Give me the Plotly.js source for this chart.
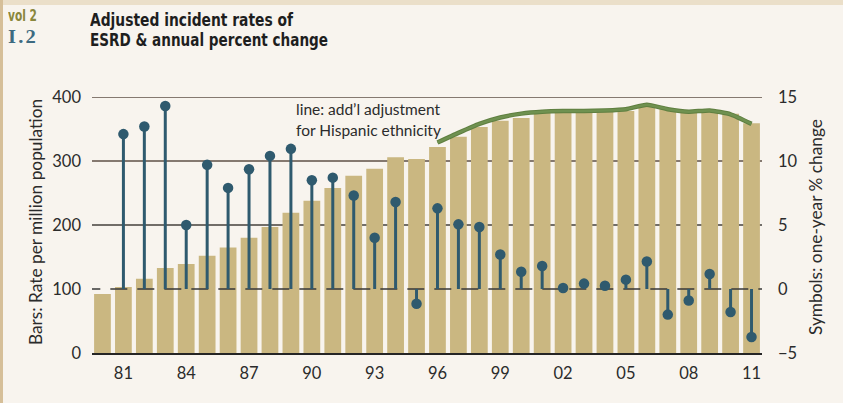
<!DOCTYPE html>
<html>
<head>
<meta charset="utf-8">
<script src="https://cdn.plot.ly/plotly-3.0.1.min.js"></script>
<style>
  html, body { margin: 0; padding: 0; background: #f8f4ee; }
  #wrap { position: relative; width: 843px; height: 403px; overflow: hidden; background: #f8f4ee; }
  #edgeL { position: absolute; left: 0; top: 0; width: 3px; height: 403px; background: #d6bf99; }
  #edgeT { position: absolute; left: 0; top: 0; width: 843px; height: 5px; background: #ebdfc9; }
  #chart { position: absolute; left: 0; top: 0; width: 843px; height: 403px; }
  .ttl { position: absolute; white-space: nowrap; transform-origin: 0 50%; line-height: 1; }
  #t1, #t2 { font-family: "DejaVu Sans Condensed", "DejaVu Sans", sans-serif; font-weight: bold;
             font-size: 18.5px; color: #1e1e1e; left: 90px; }
  #t1 { top: 11px; }
  #t2 { top: 31px; }
  #vol { font-family: "DejaVu Sans Condensed", "DejaVu Sans", sans-serif; font-weight: bold;
         font-size: 15.5px; color: #8a873c; left: 8px; top: 9px; }
  #sec { font-family: "Liberation Serif", "DejaVu Serif", serif; font-weight: bold;
         font-size: 19px; color: #3d6a80; left: 8px; top: 27px; letter-spacing: 2px; }
</style>
</head>
<body>
<div id="wrap">
  <div id="edgeT"></div>
  <div id="edgeL"></div>
  <div id="chart"></div>
  <div class="ttl" id="vol" data-w="29">vol 2</div>
  <div class="ttl" id="sec" data-w="30">I.2</div>
  <div class="ttl" id="t1" data-w="203">Adjusted incident rates of</div>
  <div class="ttl" id="t2" data-w="238">ESRD &amp; annual percent change</div>
</div>
<script>
// ---- data ----
var years = [1980,1981,1982,1983,1984,1985,1986,1987,1988,1989,1990,1991,1992,1993,1994,1995,
             1996,1997,1998,1999,2000,2001,2002,2003,2004,2005,2006,2007,2008,2009,2010,2011];
var rates = [92,103,116,133,139,152,165,180,197,219,238,258,277,288,306,303,
             322,338,353,363,367,375,376,376,377,378,385,381,376,378,374,359];

var pctYears = [1981,1982,1983,1984,1985,1986,1987,1988,1989,1990,1991,1992,1993,1994,1995,
                1996,1997,1998,1999,2000,2001,2002,2003,2004,2005,2006,2007,2008,2009,2010,2011];
var pctChange = [12.1,12.7,14.3,5.0,9.7,7.9,9.35,10.4,10.95,8.5,8.7,7.3,4.0,6.8,-1.15,
                 6.3,5.05,4.85,2.7,1.35,1.8,0.08,0.42,0.26,0.73,2.15,-2.0,-0.9,1.17,-1.8,-3.75];

var hispYears = [1996,1997,1998,1999,2000,2001,2002,2003,2004,2005,2006,2007,2008,2009,2010,2011];
var hispRates = [329,344,358,368,374,377,378,378,379,381,388,381,377,379,373,358];

var tickYears = [1981,1984,1987,1990,1993,1996,1999,2002,2005,2008,2011];
var tickLabels = ['81','84','87','90','93','96','99','02','05','08','11'];

// fit the condensed title lines to their measured widths
['vol','sec','t1','t2'].forEach(function (id) {
  var el = document.getElementById(id);
  var w = el.getBoundingClientRect().width;
  var target = parseFloat(el.getAttribute('data-w'));
  if (w > 0) el.style.transform = 'scaleX(' + (target / w) + ')';
});

// ---- build stems ----
var stemX = [], stemY = [];
for (var i = 0; i < pctYears.length; i++) {
  stemX.push(pctYears[i], pctYears[i], null);
  stemY.push(0, pctChange[i], null);
}

var FONT = 'Lato, "Open Sans", sans-serif';
var stemColor = '#2f5a6e';

var traces = [
  { type: 'bar', x: years, y: rates, yaxis: 'y', width: 0.8,
    marker: { color: '#cab781', line: { width: 0 } }, hoverinfo: 'skip' },
  { type: 'scatter', mode: 'lines', x: hispYears, y: hispRates, yaxis: 'y',
    line: { color: '#5f7f40', width: 4.5, shape: 'spline', smoothing: 0.5 }, hoverinfo: 'skip' },
  { type: 'scatter', mode: 'lines', x: hispYears, y: hispRates, yaxis: 'y',
    line: { color: '#6f9150', width: 2.5, shape: 'spline', smoothing: 0.5 }, hoverinfo: 'skip' },
  { type: 'scatter', mode: 'lines', x: [1979.085, 2011.5], y: [0, 0], yaxis: 'y2',
    line: { color: '#383838', width: 1.6, dash: '17px,10px' }, hoverinfo: 'skip' },
  { type: 'scatter', mode: 'lines', x: stemX, y: stemY, yaxis: 'y2', connectgaps: false,
    line: { color: stemColor, width: 3 }, hoverinfo: 'skip', cliponaxis: false },
  { type: 'scatter', mode: 'markers', x: pctYears, y: pctChange, yaxis: 'y2',
    marker: { color: stemColor, size: 10.5, line: { width: 0 } }, hoverinfo: 'skip', cliponaxis: false }
];

function px2x(p) { return (p - 92) / 670; }
function py2y(p) { return (353 - p) / 256; }

var layout = {
  width: 843, height: 403,
  margin: { l: 92, r: 81, t: 97, b: 50, pad: 0 },
  paper_bgcolor: 'rgba(0,0,0,0)',
  plot_bgcolor: 'rgba(0,0,0,0)',
  showlegend: false,
  bargap: 0.2,
  font: { family: FONT, size: 16, color: '#2b2b2b' },
  xaxis: {
    range: [1979.5, 2011.5], tickvals: tickYears, ticktext: tickLabels,
    showgrid: false, zeroline: false, showline: true, linecolor: '#252525', linewidth: 2,
    ticks: '', ticklabelstandoff: 4, tickfont: { family: FONT, size: 16.5, color: '#2b2b2b' }
  },
  yaxis: {
    range: [0, 400], tickvals: [0, 100, 200, 300, 400],
    showgrid: false, zeroline: false, showline: false, ticks: '',
    ticklabelstandoff: 10, tickfont: { family: FONT, size: 16.5, color: '#2b2b2b' }
  },
  yaxis2: {
    overlaying: 'y', side: 'right', range: [-5, 15], tickvals: [-5, 0, 5, 10, 15],
    showgrid: false, zeroline: false, showline: false, ticks: '',
    ticklabelstandoff: 15, tickfont: { family: FONT, size: 16.5, color: '#2b2b2b' }
  },
  shapes: [
    { type: 'line', layer: 'below', xref: 'paper', x0: 0, x1: 1, yref: 'y', y0: 400, y1: 400,
      line: { color: '#857970', width: 2 } },
    { type: 'line', layer: 'below', xref: 'paper', x0: 0, x1: 1, yref: 'y', y0: 300, y1: 300,
      line: { color: '#857970', width: 2 } },
    { type: 'line', layer: 'below', xref: 'paper', x0: 0, x1: 1, yref: 'y', y0: 200, y1: 200,
      line: { color: '#45403b', width: 1.5 } }
  ],
  annotations: [
    { xref: 'paper', yref: 'paper', x: px2x(294), y: py2y(109), xanchor: 'left', yanchor: 'middle',
      text: 'line: add\u2019l adjustment', showarrow: false,
      font: { family: FONT, size: 15.5, color: '#2b2b2b' } },
    { xref: 'paper', yref: 'paper', x: px2x(294), y: py2y(130), xanchor: 'left', yanchor: 'middle',
      text: 'for Hispanic ethnicity', showarrow: false,
      font: { family: FONT, size: 15.5, color: '#2b2b2b' } },
    { xref: 'paper', yref: 'paper', x: px2x(35), y: py2y(222), xanchor: 'center', yanchor: 'middle',
      text: 'Bars: Rate per million population', textangle: -90, showarrow: false,
      font: { family: FONT, size: 17.3, color: '#2b2b2b' } },
    { xref: 'paper', yref: 'paper', x: px2x(815), y: py2y(227), xanchor: 'center', yanchor: 'middle',
      text: 'Symbols: one-year % change', textangle: -90, showarrow: false,
      font: { family: FONT, size: 17.3, color: '#2b2b2b' } }
  ]
};

Plotly.newPlot('chart', traces, layout, { staticPlot: true, displayModeBar: false });
</script>
</body>
</html>
